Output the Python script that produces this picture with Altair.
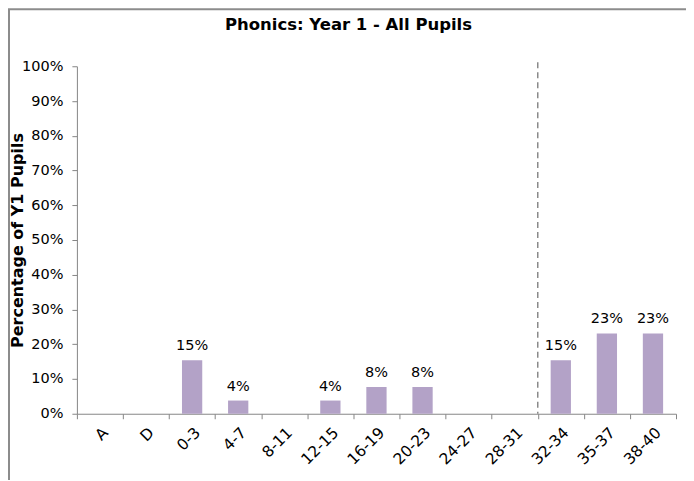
import altair as alt
import pandas as pd

categories = ["A", "D", "0-3", "4-7", "8-11", "12-15", "16-19", "20-23",
              "24-27", "28-31", "32-34", "35-37", "38-40"]
values = [0, 0, 0.154, 0.038, 0, 0.038, 0.077, 0.077, 0, 0, 0.154, 0.231, 0.231]
y_ticks = [0, 0.1, 0.2, 0.3, 0.4, 0.5, 0.6, 0.7, 0.8, 0.9, 1.0]
threshold_category = "32-34"
title_text = "Phonics: Year 1 - All Pupils"
y_title = "Percentage of Y1 Pupils"

df = pd.DataFrame({"cat": categories, "val": values})
df_lab = df[df["val"] > 0]

W, H = 600, 348
FONT = "DejaVu Sans"
GRAY = "#868686"
FS = 14.5

xaxis = alt.Axis(labelAngle=-45, labelFont=FONT, labelFontSize=15.5,
                 labelColor="#000000", tickBand="extent",
                 tickSize=5, tickColor=GRAY, domainColor=GRAY,
                 labelPadding=6, labelOverlap=False, grid=False)
yaxis = alt.Axis(format=".0%", values=y_ticks, labelOverlap=False,
                 grid=False, labelFont=FONT, labelFontSize=FS,
                 labelColor="#000000", tickSize=5, tickColor=GRAY,
                 domainColor=GRAY, labelPadding=9,
                 titleFont=FONT, titleFontSize=16, titleFontWeight="bold",
                 titleColor="#000000", titleX=-67, titleY=H / 2,
                 titleAngle=-90, titleAlign="center", titleBaseline="top")
xscale = alt.Scale(paddingInner=0, paddingOuter=0)
yscale = alt.Scale(domain=[0, 1])

bars = alt.Chart(df).mark_bar(color="#B3A2C7", width=alt.RelativeBandSize(0.44)).encode(
    x=alt.X("cat:N", sort=categories, title=None, scale=xscale, axis=xaxis),
    y=alt.Y("val:Q", scale=yscale, title=y_title, axis=yaxis),
)

labels = alt.Chart(df_lab).mark_text(baseline="bottom", dy=-7, font=FONT,
                                      fontSize=FS, color="#000000").encode(
    x=alt.X("cat:N", sort=categories, title=None, scale=xscale, axis=xaxis),
    y=alt.Y("val:Q", scale=yscale, title=y_title, axis=yaxis),
    text=alt.Text("val:Q", format=".0%"),
)

thr = alt.Chart(pd.DataFrame({"cat": [threshold_category]})).mark_rule(
    color="#8a8a8a", strokeDash=[6, 4], strokeWidth=1.5).encode(
    x=alt.X("cat:N", sort=categories, title=None, scale=xscale, axis=xaxis,
            bandPosition=0),
    y=alt.value(-4),
    y2=alt.value(H),
)

title = alt.Chart(pd.DataFrame({"t": [title_text]})).mark_text(
    font=FONT, fontSize=16.5, fontWeight="bold", color="#000000",
    align="center", baseline="middle").encode(
    text="t:N", x=alt.value(272), y=alt.value(-41))

border_top = alt.Chart(pd.DataFrame({"b": [0]})).mark_rule(
    color="#8c8c8c", strokeWidth=2).encode(
    x=alt.value(-70), x2=alt.value(W + 20), y=alt.value(-57))
border_left = alt.Chart(pd.DataFrame({"b": [0]})).mark_rule(
    color="#8c8c8c", strokeWidth=2).encode(
    x=alt.value(-68), y=alt.value(-57), y2=alt.value(H + 80))

chart = alt.layer(border_top, border_left, title, bars, labels, thr).properties(
    width=W, height=H,
    autosize=alt.AutoSizeParams(type="none"),
    padding={"left": 69, "top": 58, "right": 10, "bottom": 66},
    view=alt.ViewBackground(stroke="transparent", strokeWidth=0),
).configure_view(stroke="transparent", strokeWidth=0).configure(background="white")

chart.save("out.html", embed_options={"renderer": "svg", "actions": False})
